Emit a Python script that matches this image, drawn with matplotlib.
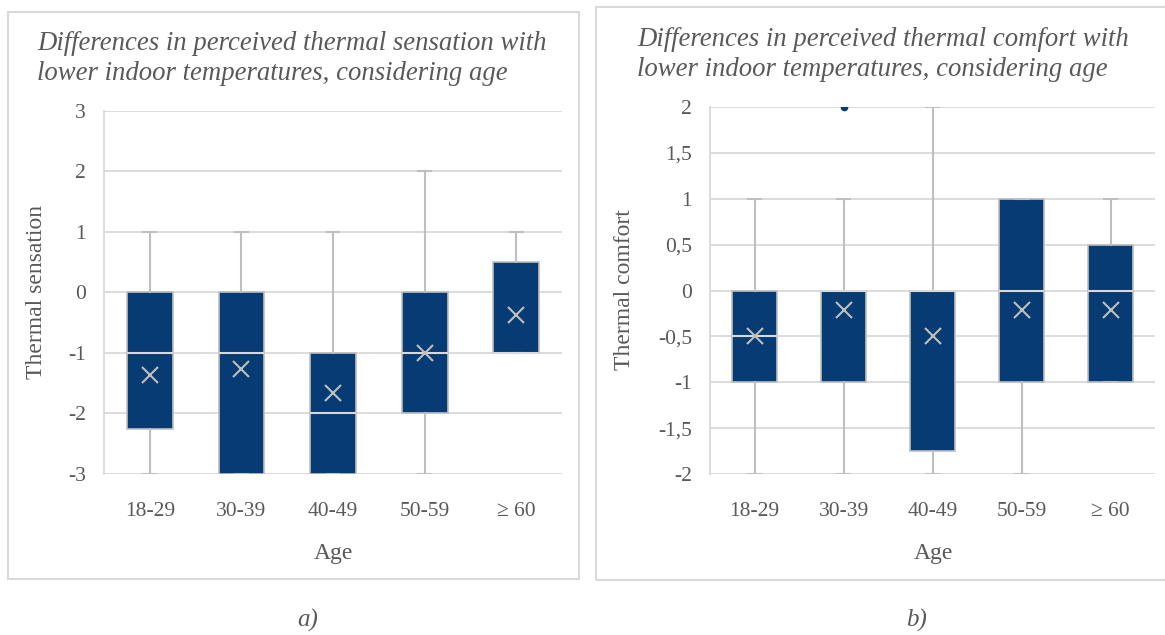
import matplotlib
matplotlib.use("Agg")
import matplotlib.pyplot as plt
from matplotlib.patches import Rectangle
from matplotlib.ticker import FuncFormatter

# Age groups on the x axis
ages = ['18-29', '30-39', '40-49', '50-59', '\u2265 60']

# a) thermal sensation box stats
sens_low = [-3, -3, -3, -3, -1]
sens_q1 = [-2.25, -3, -3, -2, -1]
sens_med = [-1, -1, -2, -1, -1]
sens_q3 = [0, 0, -1, 0, 0.5]
sens_high = [1, 1, 1, 2, 1]
sens_mean = [-1.36, -1.27, -1.67, -1.0, -0.38]
sens_out = [[], [], [], [], []]

# b) thermal comfort box stats
comf_low = [-2, -2, -2, -2, -1]
comf_q1 = [-1, -1, -1.75, -1, -1]
comf_med = [-0.5, 0, 0, 0, 0]
comf_q3 = [0, 0, 0, 1, 0.5]
comf_high = [1, 1, 2, 1, 1]
comf_mean = [-0.5, -0.21, -0.5, -0.21, -0.21]
comf_out = [[], [2], [], [], []]

W, H = 1165, 635
NAVY = '#063B73'
TXT = '#595959'
GRID = '#D9D9D9'
WHISK = '#BFBFBF'

plt.rcParams['font.family'] = ['Liberation Serif', 'DejaVu Serif']


def make_stats(low, q1, med, q3, high, mean, outl):
    stats = []
    for i in range(len(ages)):
        stats.append(dict(whislo=low[i], q1=q1[i], med=med[i], q3=q3[i],
                          whishi=high[i], mean=mean[i], fliers=outl[i],
                          label=ages[i]))
    return stats


def draw_panel(ax, stats, yticks, fmt):
    ax.bxp(stats, positions=range(1, len(ages) + 1), widths=0.5,
           capwidths=0.14, patch_artist=True, showmeans=True,
           boxprops=dict(facecolor=NAVY, edgecolor=WHISK, linewidth=1.2),
           medianprops=dict(color=GRID, linewidth=1.5),
           whiskerprops=dict(color=WHISK, linewidth=1.5),
           capprops=dict(color=WHISK, linewidth=1.5),
           meanprops=dict(marker='x', markeredgecolor=WHISK,
                          markersize=11, markeredgewidth=1.5),
           flierprops=dict(marker='o', markerfacecolor=NAVY,
                           markeredgecolor=NAVY, markersize=4.5),
           zorder=3)
    ax.set_xlim(0.5, len(ages) + 0.5)
    ax.set_ylim(yticks[0], yticks[-1])
    ax.set_yticks(yticks)
    ax.yaxis.set_major_formatter(FuncFormatter(fmt))
    ax.grid(axis='y', color=GRID, linewidth=1.3, zorder=0)
    ax.set_axisbelow(True)
    for s in ['top', 'right', 'bottom']:
        ax.spines[s].set_visible(False)
    ax.spines['left'].set_color(GRID)
    ax.spines['left'].set_linewidth(1.3)
    ax.tick_params(length=0, labelsize=15.5, labelcolor=TXT)
    ax.tick_params(axis='y', pad=13)
    ax.tick_params(axis='x', pad=20)


fig = plt.figure(figsize=(W / 100, H / 100), dpi=100)

# panel frames
fig.add_artist(Rectangle((7.5 / W, 1 - 579 / H), 571 / W, 567 / H,
                         transform=fig.transFigure, fill=False,
                         edgecolor=GRID, linewidth=1.5))
fig.add_artist(Rectangle((595.5 / W, 1 - 580 / H), 600 / W, 573 / H,
                         transform=fig.transFigure, fill=False,
                         edgecolor=GRID, linewidth=1.5))

axL = fig.add_axes([104 / W, 1 - 474 / H, 458 / W, 363.5 / H])
draw_panel(axL, make_stats(sens_low, sens_q1, sens_med, sens_q3, sens_high,
                           sens_mean, sens_out),
           [-3, -2, -1, 0, 1, 2, 3], lambda v, p: '%d' % v)

axR = fig.add_axes([710 / W, 1 - 474 / H, 445 / W, 367 / H])
draw_panel(axR, make_stats(comf_low, comf_q1, comf_med, comf_q3, comf_high,
                           comf_mean, comf_out),
           [-2, -1.5, -1, -0.5, 0, 0.5, 1, 1.5, 2],
           lambda v, p: ('%g' % v).replace('.', ','))

title_kw = dict(fontsize=19.3, style='italic', color=TXT, ha='left', va='center')
fig.text(37 / W, 1 - 43 / H, 'Differences in perceived thermal sensation with', **title_kw)
fig.text(37 / W, 1 - 74 / H, 'lower indoor temperatures, considering age', **title_kw)
fig.text(637 / W, 1 - 39 / H, 'Differences in perceived thermal comfort with', **title_kw)
fig.text(637 / W, 1 - 70 / H, 'lower indoor temperatures, considering age', **title_kw)

lab_kw = dict(fontsize=17, color=TXT, ha='center', va='center')
fig.text(37 / W, 1 - 292 / H, 'Thermal sensation', rotation=90, **lab_kw)
fig.text(625 / W, 1 - 290 / H, 'Thermal comfort', rotation=90, **lab_kw)
fig.text(333 / W, 1 - 554 / H, 'Age', **lab_kw)
fig.text(933 / W, 1 - 554 / H, 'Age', **lab_kw)

fig.text(308 / W, 1 - 620 / H, 'a)', fontsize=18, style='italic', color=TXT,
         ha='center', va='center')
fig.text(917 / W, 1 - 620 / H, 'b)', fontsize=18, style='italic', color=TXT,
         ha='center', va='center')

fig.savefig('out.png', dpi=100, facecolor='white')
